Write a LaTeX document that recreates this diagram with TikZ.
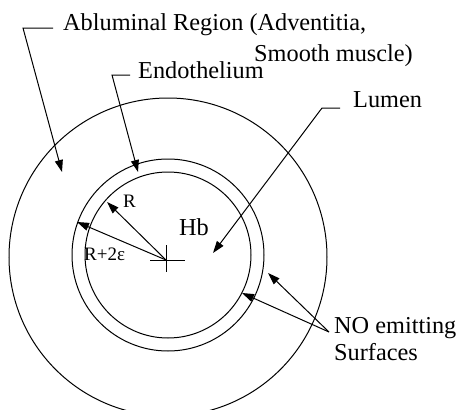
\documentclass[tikz,border=0pt]{standalone}
\usepackage{fontspec}
\setmainfont{Liberation Serif}
\usepackage{tikz}
\usetikzlibrary{arrows.meta}

\begin{document}
\begin{tikzpicture}[x=1pt,y=-1pt,
    lbl/.style={anchor=base west, inner sep=0pt, font=\fontsize{24.3}{28}\selectfont},
    sml/.style={anchor=base west, inner sep=0pt, font=\fontsize{19}{21}\selectfont},
    arr/.style={line width=1pt, -{Triangle[length=12pt,width=8pt]}},
    ring/.style={line width=1pt}]
    \useasboundingbox (0,0) rectangle (456,410);
    \clip (0,0) rectangle (456,410);
    \draw[ring] (168,257) circle (159);
    \draw[ring] (168,255) circle (96);
    \draw[ring] (168,255) circle (83);
    \coordinate (ctr) at (166,260);
    \draw[line width=1pt] (ctr) ++(-16,0) -- ++(35,0);
    \draw[line width=1pt] (ctr) ++(0,-15) -- ++(0,27);
    \node[lbl] (abl1) at (63,30) {Abluminal Region (Adventitia,};
    \node[lbl] (abl2) at (254,61) {Smooth muscle)};
    \node[lbl] (endo) at (138,78) {Endothelium};
    \node[lbl] (lumen) at (353,107) {Lumen};
    \node[lbl] (hb) at (179,235) {Hb};
    \node[sml] (r1) at (123,207) {R};
    \node[sml] (r2) at (84,260) {R+2ε};
    \node[lbl] (no1) at (334,333) {NO emitting};
    \node[lbl] (no2) at (334,360) {Surfaces};
    \coordinate (ablstub) at (53,28);
    \coordinate (ablbend) at (23,28);
    \coordinate (abltip) at (62,172);
    \coordinate (endostub) at (130,75);
    \coordinate (endobend) at (112,75);
    \coordinate (endotip) at (138,172);
    \coordinate (lumstub) at (340,108);
    \coordinate (lumbend) at (322,108);
    \coordinate (lumtip) at (213,253);
    \coordinate (nojoin) at (329,332);
    \coordinate (notip1) at (268,273);
    \coordinate (notip2) at (242,293);
    \coordinate (rtip) at (107,202);
    \coordinate (r2tip) at (77,222);
    \draw[arr] (ablstub) -- (ablbend) -- (abltip);
    \draw[arr] (endostub) -- (endobend) -- (endotip);
    \draw[arr] (lumstub) -- (lumbend) -- (lumtip);
    \draw[arr] (nojoin) -- (notip1);
    \draw[arr] (nojoin) -- (notip2);
    \draw[arr] (ctr) -- (rtip);
    \draw[arr] (ctr) -- (r2tip);
\end{tikzpicture}
\end{document}
